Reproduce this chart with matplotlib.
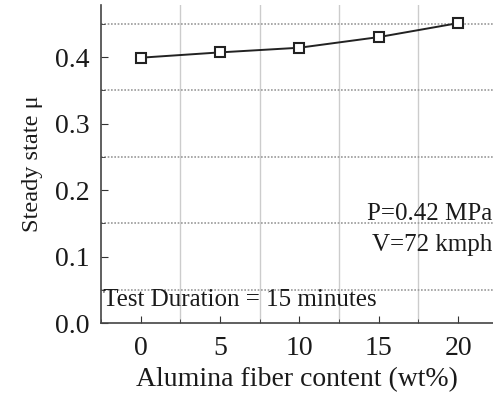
import matplotlib
matplotlib.use("Agg")
import matplotlib.pyplot as plt
from matplotlib.ticker import MultipleLocator

# data
fiber = [0, 5, 10, 15, 20]
mu = [0.399, 0.407, 0.414, 0.430, 0.451]

plt.rcParams['font.family'] = ['Liberation Serif', 'DejaVu Serif']

fig = plt.figure(figsize=(4.93, 3.96), dpi=100)
ax = fig.add_axes([0.205, 0.184, 0.795, 0.803])

ax.plot(fiber, mu, color='#222222', lw=1.4, marker='s', ms=6.5,
        mfc='white', mec='#222222', mew=1.5)

ax.set_xlim(-2.5, 22.2)
ax.set_ylim(0, 0.478)
ax.xaxis.set_major_locator(MultipleLocator(5))
ax.xaxis.set_minor_locator(MultipleLocator(2.5))
ax.yaxis.set_major_locator(MultipleLocator(0.1))
ax.yaxis.set_minor_locator(MultipleLocator(0.05))
ax.yaxis.set_major_formatter(plt.FuncFormatter(lambda v, p: f"{v:.1f}"))

ax.tick_params(which='both', direction='in', labelsize=20, color='#333333',
               labelcolor='#1a1a1a')
ax.tick_params(which='major', length=5)
ax.tick_params(which='minor', length=3)
ax.tick_params(axis='x', pad=9)
ax.tick_params(axis='y', pad=8)

# grid on the minor positions
for gx in [2.5, 7.5, 12.5, 17.5]:
    ax.axvline(gx, color='#cccccc', lw=1.0, zorder=0)
for gy in [0.05, 0.15, 0.25, 0.35, 0.45]:
    ax.axhline(gy, color='#999999', lw=1.2, ls=(0, (1, 1)), zorder=0)

for s in ['top', 'right']:
    ax.spines[s].set_visible(False)
ax.spines['left'].set_color('#444444')
ax.spines['bottom'].set_color('#444444')
ax.spines['left'].set_linewidth(1.2)
ax.spines['bottom'].set_linewidth(1.2)

ax.set_xlabel('Alumina fiber content (wt%)', fontsize=20, color='#1a1a1a',
              labelpad=5)
ax.set_ylabel('Steady state μ', fontsize=17.5, color='#1a1a1a', labelpad=9)

ax.text(0.998, 0.295, 'P=0.42 MPa\nV=72 kmph', transform=ax.transAxes,
        ha='right', va='center', fontsize=18, linespacing=1.5,
        color='#1a1a1a')
ax.text(0.005, 0.072, 'Test Duration = 15 minutes', transform=ax.transAxes,
        ha='left', va='center', fontsize=18, color='#1a1a1a')

fig.savefig('out.png', dpi=100)
